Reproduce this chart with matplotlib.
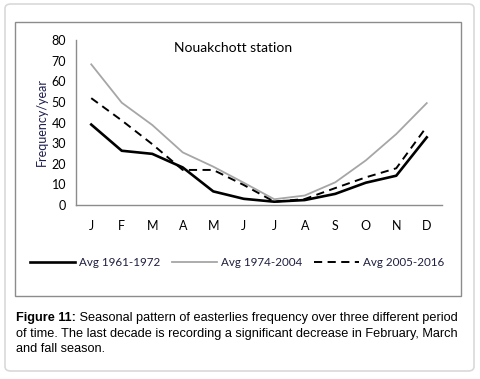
import matplotlib
matplotlib.use("Agg")
import matplotlib.pyplot as plt
from matplotlib.patches import FancyBboxPatch, Rectangle

months = ["J", "F", "M", "A", "M", "J", "J", "A", "S", "O", "N", "D"]
avg_1961_1972 = [39, 26.3, 24.8, 18.2, 6.6, 3.0, 1.6, 2.4, 5.4, 10.8, 14.2, 32.8]
avg_1974_2004 = [68.2, 49.6, 38.8, 25.5, 18.6, 10.8, 2.8, 4.6, 11.0, 21.6, 34.4, 49.4]
avg_2005_2016 = [51.8, 41.0, 29.5, 17.0, 17.0, 9.7, 1.6, 2.9, 8.2, 13.4, 17.8, 38.0]
series_labels = ["Avg 1961-1972", "Avg 1974-2004", "Avg 2005-2016"]
y_ticks = [0, 10, 20, 30, 40, 50, 60, 70, 80]

W, H = 481, 379
fig = plt.figure(figsize=(W / 100, H / 100), dpi=100)

def fx(px):
    return px / W

def fy(py):
    return 1 - py / H

# outer rounded frame
fig.patches.append(FancyBboxPatch((fx(5), fy(371)), fx(469), (367) / H,
                                  boxstyle="round,pad=0,rounding_size=0.012",
                                  transform=fig.transFigure, facecolor="white",
                                  edgecolor="#d9d9d9", linewidth=1.2, zorder=-2))
# chart box
fig.patches.append(Rectangle((fx(15), fy(296)), fx(446), (296 - 22) / H,
                             transform=fig.transFigure, facecolor="white",
                             edgecolor="#8c8c8c", linewidth=1.0, zorder=-1))

ax = fig.add_axes([fx(76), fy(205), fx(442 - 76), (205 - 40) / H])
ax.set_zorder(2)
ax.set_facecolor("none")
x = list(range(len(months)))
l1, = ax.plot(x, avg_1961_1972, color="black", lw=1.9)
l2, = ax.plot(x, avg_1974_2004, color="#a6a6a6", lw=1.3)
l3, = ax.plot(x, avg_2005_2016, color="black", lw=1.4, dashes=(4.2, 2.8))
ax.set_xlim(-0.5, 11.5)
ax.set_ylim(0, 80)
ax.set_yticks(y_ticks)
ax.set_xticks(x)
ax.set_xticklabels(months)
for s in ["top", "right"]:
    ax.spines[s].set_visible(False)
for s in ["left", "bottom"]:
    ax.spines[s].set_color("#8c8c8c")
    ax.spines[s].set_linewidth(1.0)
ax.tick_params(axis="both", length=0, labelsize=9, labelcolor="black")
ax.tick_params(axis="y", pad=7)
ax.tick_params(axis="x", pad=11)
for t in ax.get_xticklabels() + ax.get_yticklabels():
    t.set_fontfamily("Lato")
ax.set_ylabel("Frequency/year", fontfamily="Lato", fontsize=9, color="#1f1f4f", labelpad=3)
ax.text(0.43, 0.985, "Nouakchott station", transform=ax.transAxes, ha="center", va="top",
        fontfamily="Lato", fontsize=10, color="black")

fig.legend([l1, l2, l3], series_labels, loc="center", bbox_to_anchor=(fx(237), fy(263)),
           ncol=3, frameon=False, prop={"family": "Lato", "size": 8.4},
           handlelength=3.9, handletextpad=0.3, columnspacing=1.0, labelcolor="#1f1f3f")

# caption
cap_lines = [
    " Seasonal pattern of easterlies frequency over three different period",
    "of time. The last decade is recording a significant decrease in February, March",
    "and fall season.",
]
fs = 9.2
bold = fig.text(fx(16), fy(318), "Figure 11:", fontfamily="Liberation Sans", fontweight="bold",
                fontsize=fs, va="center", ha="left", color="black")
fig.canvas.draw()
bb = bold.get_window_extent(renderer=fig.canvas.get_renderer())
fig.text(bb.x1 / W, fy(318), cap_lines[0], fontfamily="Liberation Sans", fontsize=fs,
         va="center", ha="left", color="black")
fig.text(fx(16), fy(333.5), cap_lines[1], fontfamily="Liberation Sans", fontsize=fs,
         va="center", ha="left", color="black")
fig.text(fx(16), fy(349), cap_lines[2], fontfamily="Liberation Sans", fontsize=fs,
         va="center", ha="left", color="black")

fig.savefig("out.png", dpi=100)
